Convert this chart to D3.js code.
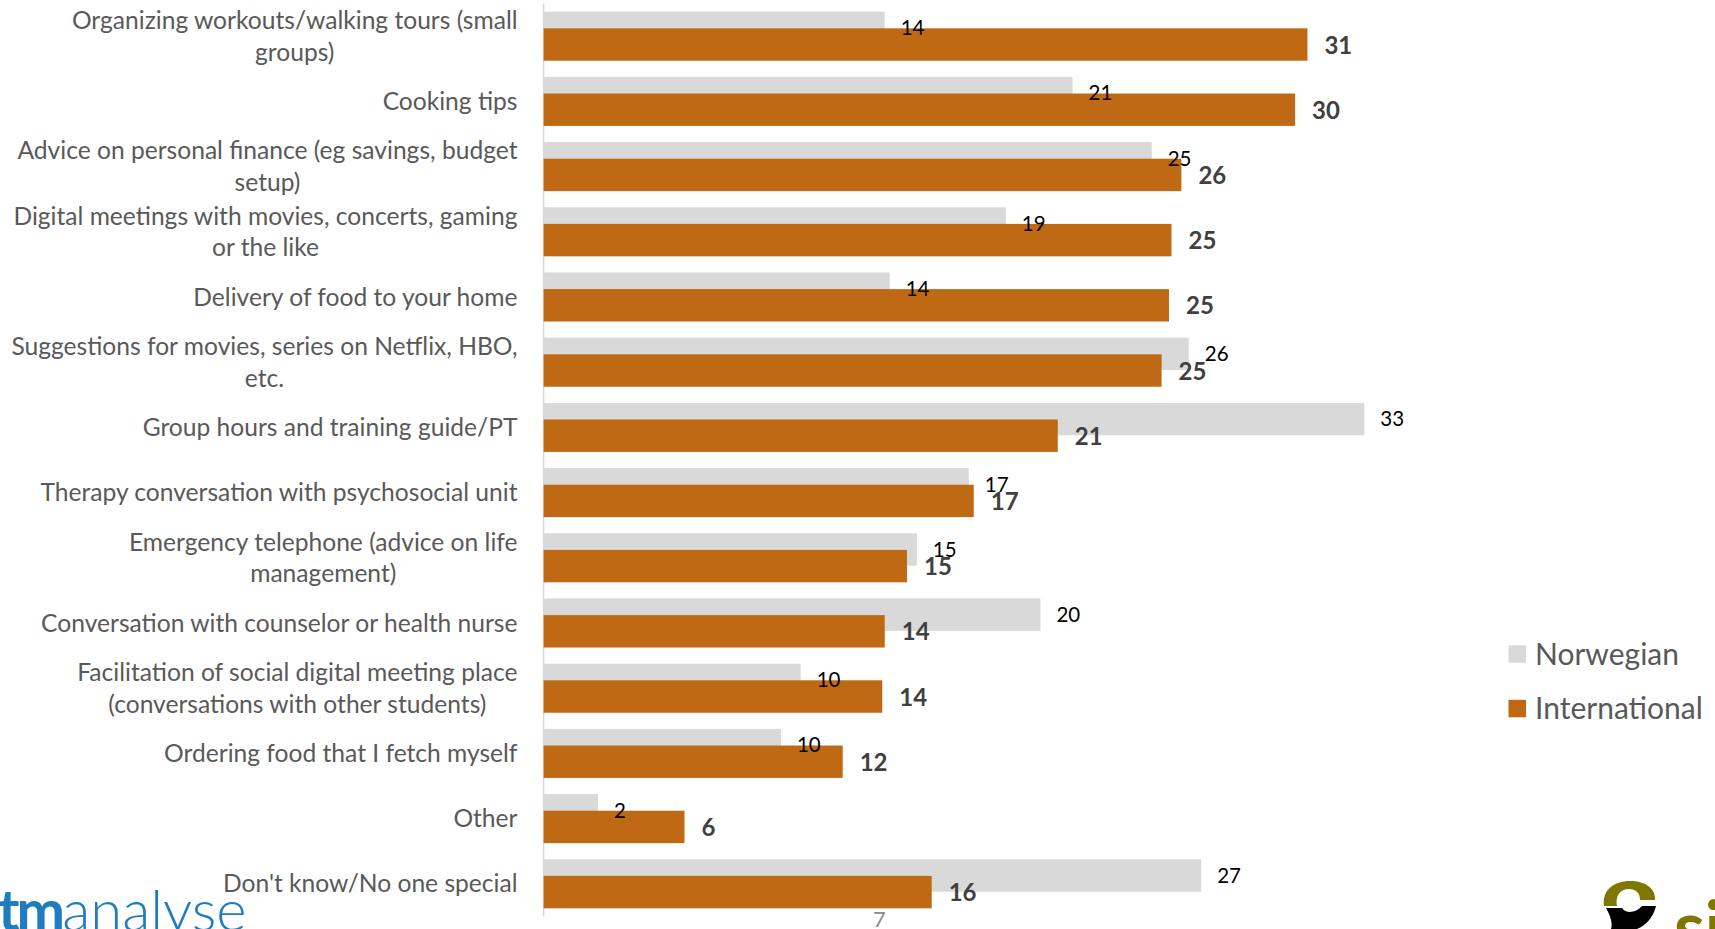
<!DOCTYPE html>
<html><head><meta charset="utf-8">
<script src="https://cdn.jsdelivr.net/npm/d3@7"></script>
<style>body{margin:0;background:#fff;overflow:hidden} svg{display:block}</style>
</head><body><svg id="c" width="1715" height="929"></svg>
<script>
const categories = [
  "Organizing workouts/walking tours (small\ngroups)",
  "Cooking tips",
  "Advice on personal finance (eg savings, budget\nsetup)",
  "Digital meetings with movies, concerts, gaming\nor the like",
  "Delivery of food to your home",
  "Suggestions for movies, series on Netflix, HBO,\netc.",
  "Group hours and training guide/PT",
  "Therapy conversation with psychosocial unit",
  "Emergency telephone (advice on life\nmanagement)",
  "Conversation with counselor or health nurse",
  "Facilitation of social digital meeting place\n(conversations with other students)",
  "Ordering food that I fetch myself",
  "Other",
  "Don't know/No one special"
];
const norwegian     = [13.8, 21.4, 24.6, 18.7, 14.0, 26.1, 33.2, 17.2, 15.1, 20.1, 10.4, 9.6, 2.2, 26.6];
const international = [30.9, 30.4, 25.8, 25.4, 25.3, 25.0, 20.8, 17.4, 14.7, 13.8, 13.7, 12.1, 5.7, 15.7];
const seriesNames = ["Norwegian", "International"];
const pageNumber = "7";

const FONT = "Lato, 'Open Sans', sans-serif";
const svg = d3.select("#c");

const x = d3.scaleLinear().domain([0, 40]).range([543.6, 543.6 + 24.72 * 40]);
const y = d3.scaleBand().domain(categories).range([3.6, 916.4]).paddingInner(0).paddingOuter(0);
const bw = y.bandwidth();
const barH = bw * 0.497;
const grayOff = bw * 0.124;
const orangeOff = bw * 0.379;

const colors = {Norwegian: "#d9d9d9", International: "#bf6915"};

// axis line
svg.append("line")
  .attr("x1", x(0)).attr("x2", x(0))
  .attr("y1", y.range()[0]).attr("y2", y.range()[1])
  .attr("stroke", "#d9d9d9").attr("stroke-width", 1.5);

const rows = categories.map((c, i) => ({c, n: norwegian[i], t: international[i]}));

// Norwegian bars
svg.append("g").selectAll("rect").data(rows).join("rect")
  .attr("x", x(0)).attr("y", d => y(d.c) + grayOff)
  .attr("width", d => x(d.n) - x(0)).attr("height", barH)
  .attr("fill", colors.Norwegian);

// International bars
svg.append("g").selectAll("rect").data(rows).join("rect")
  .attr("x", x(0)).attr("y", d => y(d.c) + orangeOff)
  .attr("width", d => x(d.t) - x(0)).attr("height", barH)
  .attr("fill", colors.International);

// Norwegian labels
svg.append("g").selectAll("text").data(rows).join("text")
  .attr("x", d => x(d.n) + 16).attr("y", d => y(d.c) + grayOff + barH / 2)
  .attr("dy", "0.36em")
  .attr("font-family", FONT).attr("font-size", 20.5).attr("fill", "#000")
  .text(d => Math.round(d.n));

// International labels
svg.append("g").selectAll("text").data(rows).join("text")
  .attr("x", d => x(d.t) + 17).attr("y", d => y(d.c) + orangeOff + barH / 2)
  .attr("dy", "0.38em")
  .attr("font-family", FONT).attr("font-size", 24).attr("font-weight", "bold").attr("fill", "#404040")
  .text(d => Math.round(d.t));

// category labels: block right-aligned, lines centred within the block
const labelRight = 517.5;
const cat = svg.append("g").selectAll("text").data(categories).join("text")
  .attr("text-anchor", "middle")
  .attr("font-family", FONT).attr("font-size", 24.6).attr("fill", "#595959");
cat.each(function(c) {
  const lines = c.split("\n");
  const lh = 31.7;
  const cy = y(c) + bw / 2;
  const t = d3.select(this);
  const spans = lines.map((l, k) => t.append("tspan")
      .attr("y", cy + (k - (lines.length - 1) / 2) * lh)
      .attr("dy", "0.35em").text(l));
  const maxW = d3.max(spans, s => s.node().getComputedTextLength());
  spans.forEach(s => s.attr("x", labelRight - maxW / 2));
});

// legend
const lg = svg.append("g");
seriesNames.forEach((s, i) => {
  const yy = 654 + i * 54.5;
  lg.append("rect").attr("x", 1508.5).attr("y", yy - 8.7).attr("width", 17.5).attr("height", 17.5).attr("fill", colors[s]);
  lg.append("text").attr("x", 1535).attr("y", yy).attr("dy", "0.36em")
    .attr("font-family", FONT).attr("font-size", 30).attr("fill", "#595959").text(s);
});

// page number
svg.append("text").attr("x", 873).attr("y", 927).attr("font-family", FONT).attr("font-size", 22)
  .attr("fill", "#898989").text(pageNumber);

// tmanalyse logo
const logo = svg.append("text").attr("x", -2).attr("y", 931).attr("font-family", FONT)
  .attr("font-size", 58).attr("fill", "#1f7dbf");
logo.append("tspan").attr("font-weight", "bold").attr("letter-spacing", -3).text("tm");
logo.append("tspan").attr("font-weight", 300).text("analyse");

// esi logo (partially visible)
const esi = svg.append("g");
esi.append("path")
  .attr("d", "M1604,906 C1602,890 1614,881 1630,881 C1646,881 1656,889 1655,900 L1640,900 C1640,893 1636,889 1629,889 C1620,889 1615,896 1617,906 Z")
  .attr("fill", "#7f7800");
esi.append("path")
  .attr("d", "M1606,908 L1622,908 C1626,914 1636,913 1642,906 L1656,906 C1652,922 1640,931 1626,931 L1610,931 C1614,925 1610,915 1606,908 Z")
  .attr("fill", "#000");
esi.append("text").attr("x", 1674).attr("y", 952).attr("font-family", FONT).attr("font-weight", "bold")
  .attr("font-size", 70).attr("fill", "#7f7800").text("si");
</script>
</body></html>
